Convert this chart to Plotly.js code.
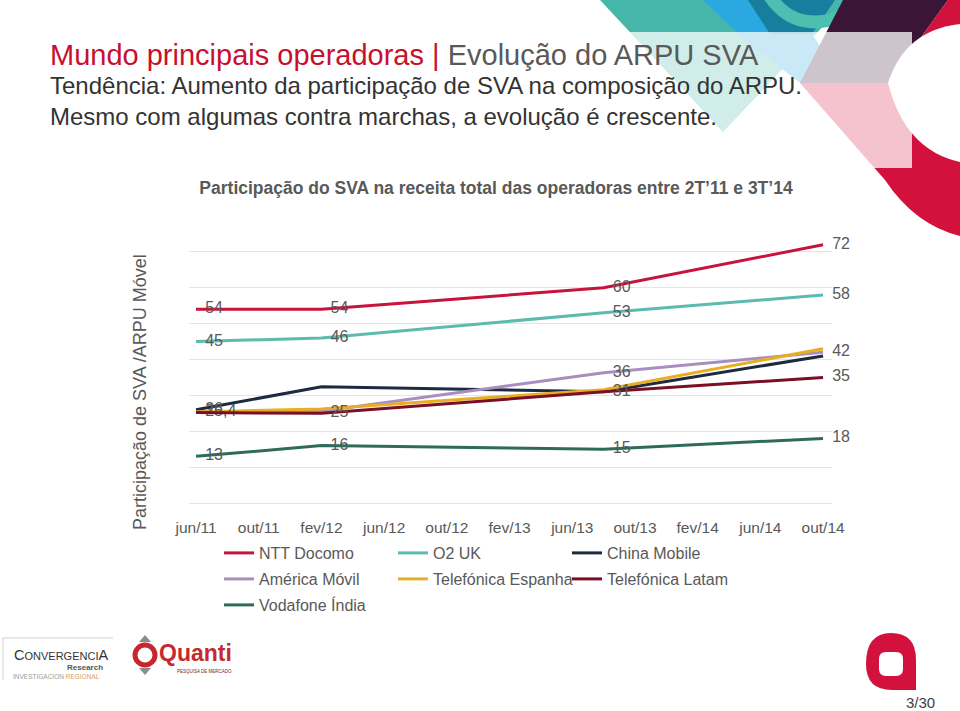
<!DOCTYPE html>
<html><head><meta charset="utf-8">
<script src="https://cdn.plot.ly/plotly-3.0.1.min.js"></script>
<style>html,body{margin:0;padding:0;background:#fff;} #chart{width:960px;height:711px;}</style>
</head><body><div id="chart"></div>
<script>
// ---- data ----
const tickLabels = ['jun/11','out/11','fev/12','jun/12','out/12','fev/13','jun/13','out/13','fev/14','jun/14','out/14'];
const tickMonths = [0,4,8,12,16,20,24,28,32,36,40];      // months since jun/11
const pointMonths = [0, 8, 26, 40];                        // jun/11, fev/12, ago/13, out/14
const seriesNames = ['NTT Docomo','O2 UK','China Mobile','América Móvil','Telefónica Espanha','Telefónica Latam','Vodafone Índia'];
const nttDocomo = [54, 54, 60, 72];
const o2UK = [45, 46, 53, 58];
const chinaMobile = [26, 32.4, 31, 41];
const americaMovil = [25.4, 25.6, 36.3, 42];
const telefonicaEspanha = [25.4, 26.2, 31.6, 43];
const telefonicaLatam = [25.2, 25, 31, 35];
const vodafoneIndia = [13, 16, 15, 18];
const labelsNtt = ['54','54','60','72'];
const labelsO2 = ['45','46','53','58'];
const labelsChina = ['26','','',''];
const labelsAmerica = ['','','36','42'];
const labelsEspanha = ['25,4','','',''];
const labelsLatam = ['','25','31','35'];
const labelsVodafone = ['13','16','15','18'];

// ---- style ----
const FONT = 'Liberation Sans, Arial, sans-serif';
const GREY = '#595959';
const colors = ['#C8133A','#5BBBAF','#1D2A40','#A98DC1','#E8AE22','#7A0F25','#2E6B5D'];
const legendOf = ['legend','legend','legend','legend2','legend2','legend2','legend3'];
const allValues = [nttDocomo,o2UK,chinaMobile,americaMovil,telefonicaEspanha,telefonicaLatam,vodafoneIndia];
const allLabels = [labelsNtt,labelsO2,labelsChina,labelsAmerica,labelsEspanha,labelsLatam,labelsVodafone];

const M = {l:189, r:128, t:216, b:208};
const W = 960 - M.l - M.r, H = 711 - M.t - M.b;
const X = px => (px - M.l) / W;
const Y = py => (M.t + H - py) / H;
const path = s => s.replace(/(-?\d+\.?\d*),(-?\d+\.?\d*)/g, (m,a,b) => X(+a).toFixed(5) + ',' + Y(+b).toFixed(5));

const traces = seriesNames.map((n,i) => ({
  type:'scatter', mode:'lines+markers+text', name:n, x:pointMonths, y:allValues[i],
  line:{color:colors[i], width:3}, marker:{size:13, color:'rgba(0,0,0,0)', line:{width:0}},
  text:allLabels[i], textposition:'middle right',
  textfont:{size:16, color:GREY, family:FONT}, cliponaxis:false, legend:legendOf[i], hoverinfo:'skip'
}));

const shapes = [];
function poly(d, color, opacity){ shapes.push({type:'path', xref:'paper', yref:'paper', path:path(d), fillcolor:color, line:{width:0}, opacity:opacity||1, layer:'above'}); }
function circ(cx,cy,r,fill,lineColor,lw){ shapes.push({type:'circle', xref:'paper', yref:'paper', x0:X(cx-r), x1:X(cx+r), y0:Y(cy+r), y1:Y(cy-r), fillcolor:fill||'rgba(0,0,0,0)', line:{color:lineColor||'rgba(0,0,0,0)', width:lw||0}, layer:'above'}); }
function line(x0,y0,x1,y1,color,w){ shapes.push({type:'line', xref:'paper', yref:'paper', x0:X(x0), x1:X(x1), y0:Y(y0), y1:Y(y1), line:{color:color, width:w}, layer:'above'}); }

// decorative header graphics (top right)
poly('M600,0 L848,0 L723,132 Z', '#45B6A9');
poly('M703,0 L790,0 L842,80 L800,83 L745,40 Z', '#2AA9E0');
poly('M748,0 L835,0 L812,34 L770,34 Z', '#177E9E');
circ(815,-30,52,null,'#4DBFB1',13);
poly('M843,0 L948,0 L888,83 L800,83 Z', '#3B1535');
poly('M948,0 L960,0 L960,236 Q915,225 885,180 L800,83 L888,83 Z', '#D2123C');
poly('M888,83 Q905,30 960,24 L960,162 Q905,150 888,83 Z', '#FFFFFF');
shapes.push({type:'rect', xref:'paper', yref:'paper', x0:X(623), x1:X(912), y0:Y(168), y1:Y(32), fillcolor:'#FFFFFF', opacity:0.75, line:{width:0}, layer:'above'});

// bottom-left logos
line(3,638,113,638,'#D0D0D0',1);
line(3,638,3,680,'#D0D0D0',1);
circ(145,655,10,null,'#C8262C',5);
poly('M139,642 L145,635 L151,642 Z', '#8C8C8C');
poly('M139,668 L145,675 L151,668 Z', '#8C8C8C');
// bottom-right logo
poly('M916,690 L892,690 Q866,690 866,664 Q866,633 891,633 Q916,633 916,660 Z', '#D2123C');
poly('M886,652 L896,652 Q903,652 903,659 L903,669 Q903,676 896,676 L886,676 Q879,676 879,669 L879,659 Q879,652 886,652 Z', '#FFFFFF');

const annotations = [
  {text:'<span style="color:#C8102E">Mundo principais operadoras | </span>Evolução do ARPU SVA', x:X(48), y:Y(55), xanchor:'left', yanchor:'middle', showarrow:false, font:{size:29, color:GREY, family:FONT}},
  {text:'Tendência: Aumento da participação de SVA na composição do ARPU.<br>Mesmo com algumas contra marchas, a evolução é crescente.', x:X(48), y:Y(101), xanchor:'left', yanchor:'middle', align:'left', showarrow:false, font:{size:24, color:'#333333', family:FONT}},
  {text:'Participação de SVA /ARPU Móvel', textangle:-90, x:X(140), y:Y(392), xanchor:'center', yanchor:'middle', showarrow:false, font:{size:18, color:GREY, family:FONT}},
  {text:'C<span style="font-size:11px">ONVERGENCI</span>A', x:X(12), y:Y(655), xanchor:'left', yanchor:'middle', showarrow:false, font:{size:14.5, color:'#333333', family:FONT}},
  {text:'<b>Research</b>', x:X(105), y:Y(667), xanchor:'right', yanchor:'middle', showarrow:false, font:{size:8, color:'#555555', family:FONT}},
  {text:'INVESTIGACION <span style="color:#D9A066">REGIONAL</span>', x:X(11), y:Y(676), xanchor:'left', yanchor:'middle', showarrow:false, font:{size:6.5, color:'#9A9A9A', family:FONT}},
  {text:'<b>Quanti</b>', x:X(157), y:Y(653), xanchor:'left', yanchor:'middle', showarrow:false, font:{size:23, color:'#C52A2E', family:FONT}},
  {text:'PESQUISA DE MERCADO', x:X(234), y:Y(671), xanchor:'right', yanchor:'middle', showarrow:false, font:{size:4.5, color:'#7A1B1E', family:FONT}},
  {text:'3/30', x:X(920), y:Y(702), xanchor:'center', yanchor:'middle', showarrow:false, font:{size:15, color:'#404040', family:FONT}}
].map(a => Object.assign({xref:'paper', yref:'paper'}, a));

const legendBase = {orientation:'h', xanchor:'left', yanchor:'top', x:X(219), font:{size:16, color:GREY, family:FONT}, entrywidth:129, entrywidthmode:'pixels', bgcolor:'rgba(0,0,0,0)', borderwidth:0};

const layout = {
  width:960, height:711, margin:M, paper_bgcolor:'#FFFFFF', plot_bgcolor:'#FFFFFF',
  font:{family:FONT, color:GREY},
  title:{text:'<b>Participação do SVA na receita total das operadoras entre 2T’11 e 3T’14</b>', font:{size:17.5, color:GREY, family:FONT}, xref:'container', yref:'container', x:496/960, xanchor:'center', y:1-188/711, yanchor:'middle'},
  xaxis:{range:[-0.45,40.57], tickvals:tickMonths, ticktext:tickLabels, showgrid:false, zeroline:false, showline:false, ticks:'', tickfont:{size:15.5, color:GREY, family:FONT}, ticklabelstandoff:13, fixedrange:true},
  yaxis:{range:[0,80], tick0:0, dtick:10, showticklabels:false, ticks:'', gridcolor:'#E4E4E4', gridwidth:1, zeroline:true, zerolinecolor:'#E4E4E4', zerolinewidth:1, showline:false, fixedrange:true},
  showlegend:true,
  legend:Object.assign({}, legendBase, {y:Y(536)}),
  legend2:Object.assign({}, legendBase, {y:Y(562)}),
  legend3:Object.assign({}, legendBase, {y:Y(588)}),
  shapes:shapes, annotations:annotations
};
Plotly.newPlot('chart', traces, layout, {displayModeBar:false, staticPlot:true});
</script></body></html>
